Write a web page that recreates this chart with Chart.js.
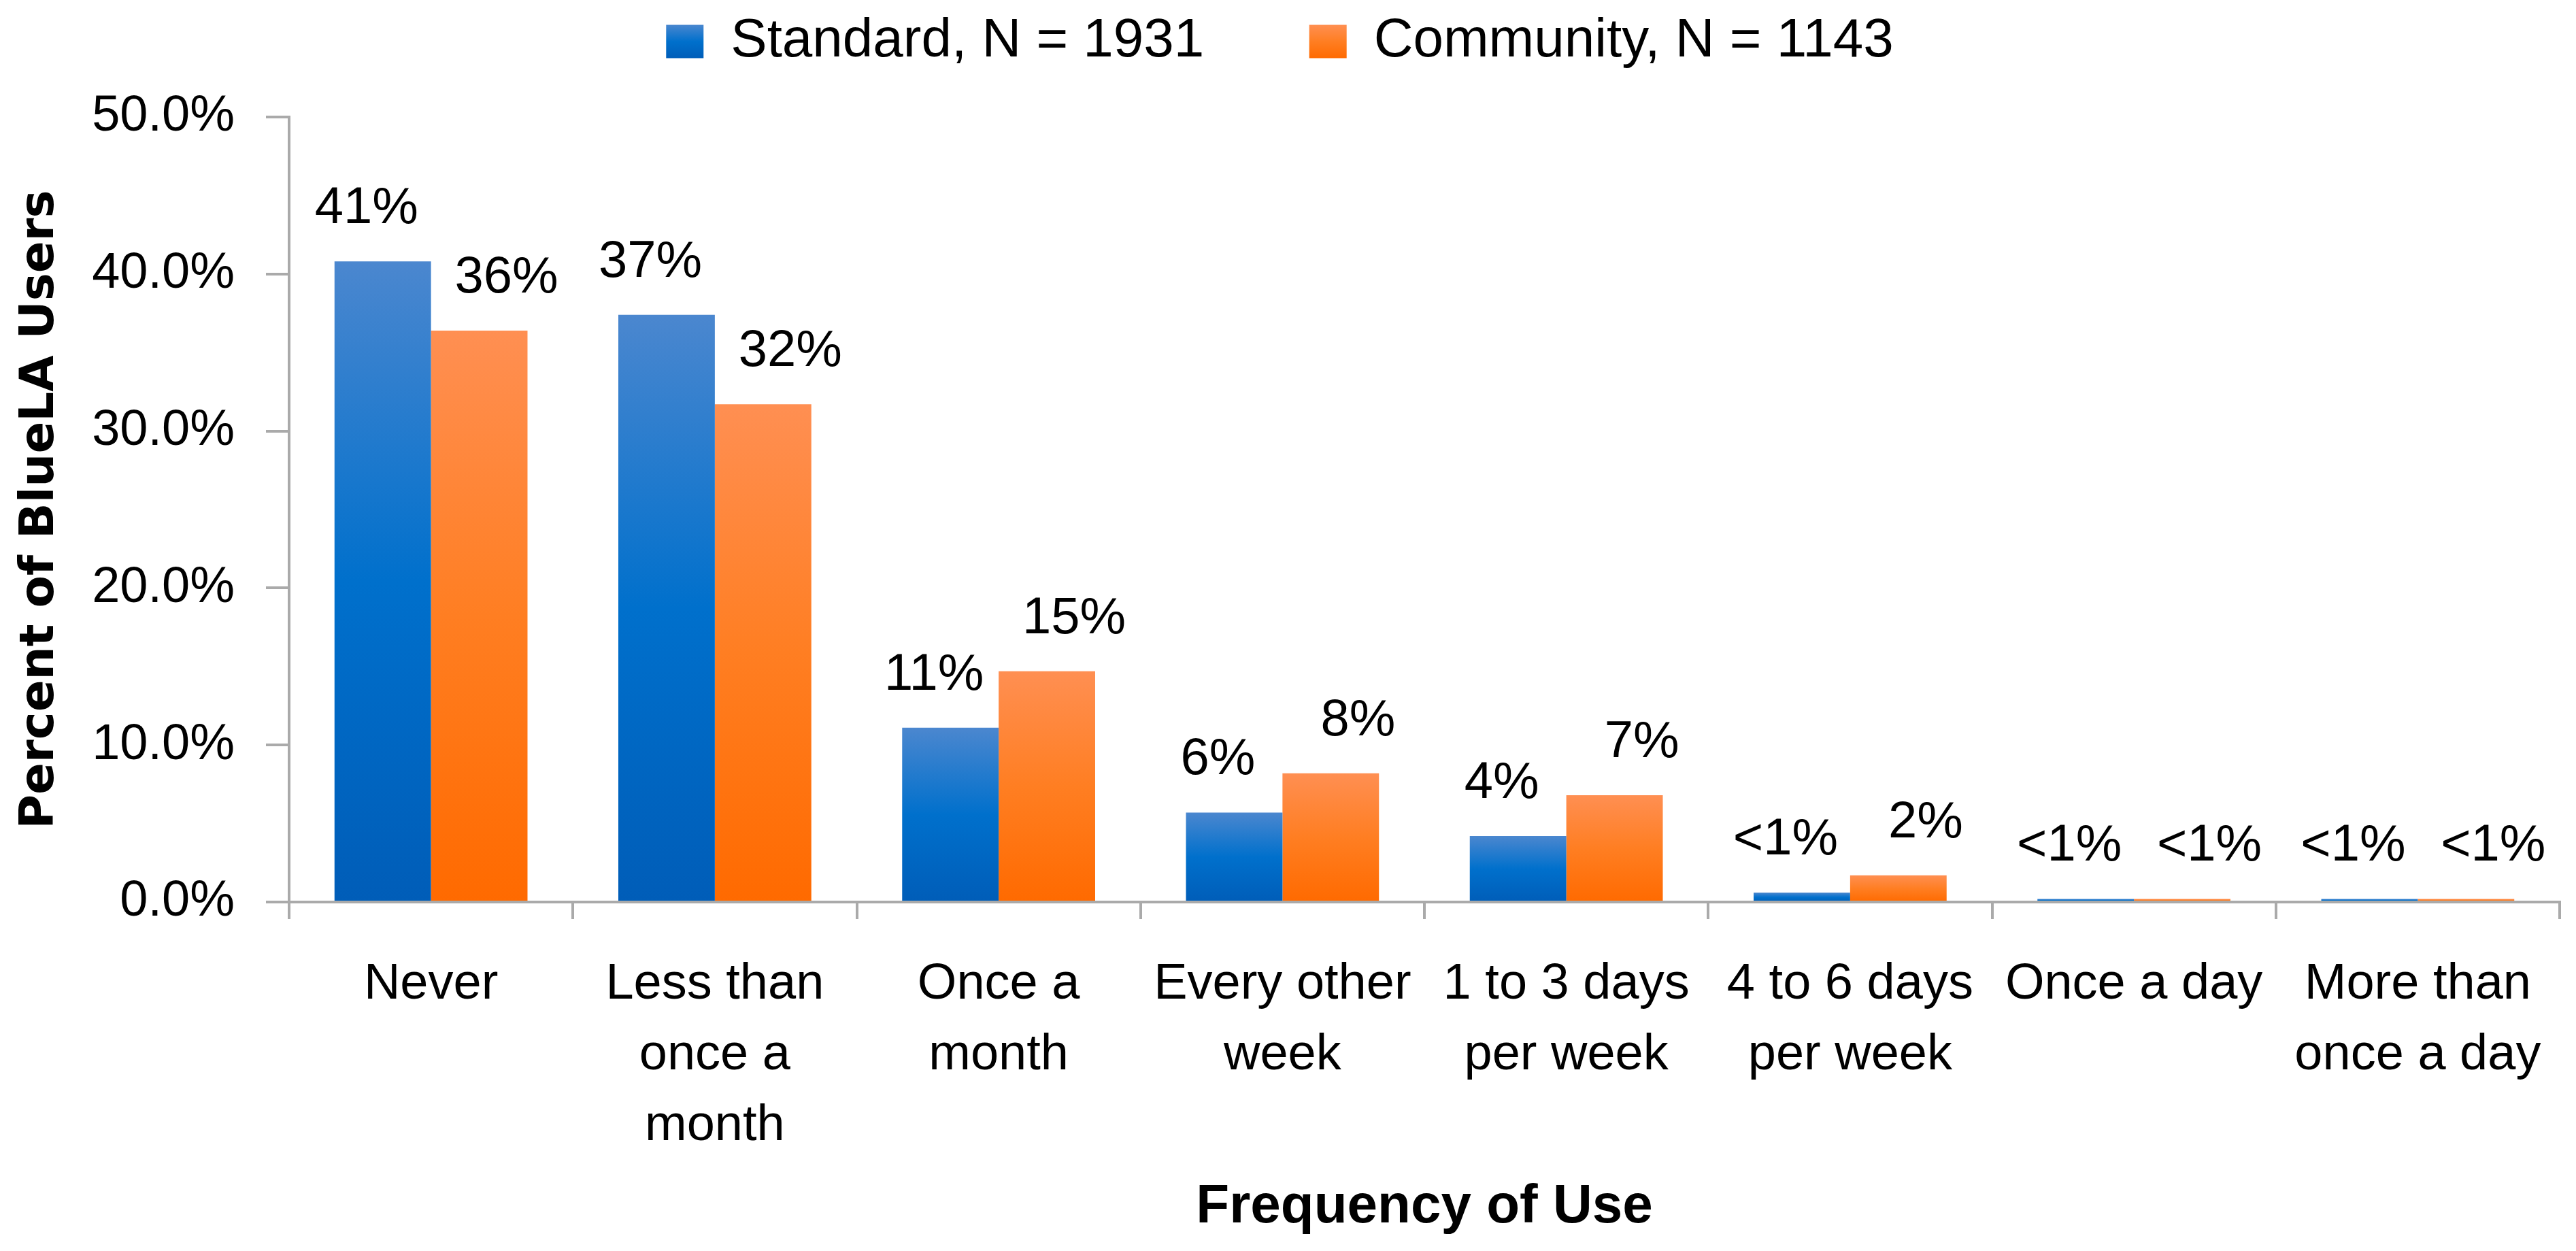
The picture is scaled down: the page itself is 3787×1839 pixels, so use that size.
<!DOCTYPE html>
<html>
<head>
<meta charset="utf-8">
<title>Frequency of Use</title>
<script src="https://cdn.jsdelivr.net/npm/chart.js@4.4.1/dist/chart.umd.min.js"></script>
<style>
  html, body { margin: 0; padding: 0; background: #fff; }
  #wrap { width: 3787px; height: 1839px; }
</style>
</head>
<body>
<div id="wrap"><canvas id="myChart"></canvas></div>
<script>
// values (percent of users)
const categories = [
  'Never',
  ['Less than', 'once a', 'month'],
  ['Once a', 'month'],
  ['Every other', 'week'],
  ['1 to 3 days', 'per week'],
  ['4 to 6 days', 'per week'],
  'Once a day',
  ['More than', 'once a day']
];
const standard = [40.8, 37.4, 11.1, 5.7, 4.2, 0.6, 0.2, 0.2];
const community = [36.4, 31.7, 14.7, 8.2, 6.8, 1.7, 0.2, 0.2];
const seriesNames = ['Standard, N = 1931', 'Community, N = 1143'];
const yMin = 0, yMax = 50, yStep = 10;

const blueStops = ['#4B87CF', '#0070CC', '#005DB8'];
const orangeStops = ['#FF8F52', '#FF7E22', '#FF6A00'];

const pctLabel = v => v < 1 ? '<1%' : Math.round(v) + '%';

function makeGradient(ctx, top, bottom, stops) {
  const g = ctx.createLinearGradient(0, top, 0, bottom);
  g.addColorStop(0, stops[0]);
  g.addColorStop(0.5, stops[1]);
  g.addColorStop(1, stops[2]);
  return g;
}

// Excel-like vertical gradient on each bar
function barFill(stops) {
  return function (c) {
    const y = c.chart.scales.y;
    if (c.raw === undefined || !y) return stops[1];
    const top = y.getPixelForValue(c.raw);
    const base = y.getPixelForValue(0);
    if (!isFinite(top) || !isFinite(base) || base - top < 1) return stops[2];
    return makeGradient(c.chart.ctx, top, base, stops);
  };
}

// keep the legend band as tall as in the original
const legendSpace = {
  id: 'legendSpace',
  beforeInit(chart) {
    if (!chart.legend) return;
    const fit = chart.legend.fit;
    chart.legend.fit = function () {
      fit.call(this);
      this.height = 172;
    };
  }
};

// value labels above the bars, blue pushed left and orange pushed right a bit
const labelNudge = [-24, 40];
const barLabels = {
  id: 'barLabels',
  afterDatasetsDraw(chart) {
    const ctx = chart.ctx;
    ctx.save();
    ctx.font = '76px "Liberation Sans", Arial, sans-serif';
    ctx.fillStyle = '#000';
    ctx.textAlign = 'center';
    ctx.textBaseline = 'alphabetic';
    chart.data.datasets.forEach((ds, i) => {
      chart.getDatasetMeta(i).data.forEach((bar, j) => {
        ctx.fillText(pctLabel(ds.data[j]), bar.x + labelNudge[i], bar.y - 56);
      });
    });
    ctx.restore();
  }
};

Chart.defaults.font.family = '"Liberation Sans", Arial, sans-serif';
Chart.defaults.color = '#000';

const axisGrey = '#AAAAAA';

const myChart = new Chart(document.getElementById('myChart'), {
  type: 'bar',
  data: {
    labels: categories,
    datasets: [{
      label: seriesNames[0],
      data: standard,
      backgroundColor: barFill(blueStops),
      borderWidth: 0
    }, {
      label: seriesNames[1],
      data: community,
      backgroundColor: barFill(orangeStops),
      borderWidth: 0
    }]
  },
  options: {
    responsive: true,
    maintainAspectRatio: false,
    devicePixelRatio: 1,
    animation: false,
    datasets: {
      bar: { barPercentage: 1, categoryPercentage: 0.68 }
    },
    layout: { padding: { top: 0, right: 24, bottom: 0, left: 0 } },
    plugins: {
      tooltip: { enabled: false },
      legend: {
        position: 'top',
        align: 'center',
        labels: {
          boxWidth: 55,
          boxHeight: 49,
          padding: 21,
          font: { size: 80 },
          generateLabels(chart) {
            const items = Chart.defaults.plugins.legend.labels.generateLabels(chart);
            const stops = [blueStops, orangeStops];
            items.forEach((it, i) => {
              it.fillStyle = makeGradient(chart.ctx, 36, 86, stops[i]);
            });
            items[0].text = items[0].text + '\u00A0\u00A0\u00A0\u00A0\u00A0\u00A0';
            return items;
          }
        }
      }
    },
    scales: {
      x: {
        z: 1,
        grid: {
          drawOnChartArea: false,
          drawTicks: true,
          tickLength: 25,
          color: axisGrey,
          lineWidth: 4
        },
        border: { display: true, color: axisGrey, width: 4 },
        ticks: {
          autoSkip: false,
          maxRotation: 0,
          minRotation: 0,
          padding: 45,
          font: { size: 74, lineHeight: 1.405 }
        },
        title: {
          display: true,
          text: 'Frequency of Use',
          font: { size: 80, weight: 'bold', lineHeight: 1.2 },
          padding: { top: 0, bottom: 16 }
        },
        afterFit(scale) { scale.height = 513; }
      },
      y: {
        z: 1,
        min: yMin,
        max: yMax,
        grid: {
          drawOnChartArea: false,
          drawTicks: true,
          tickLength: 34,
          color: axisGrey,
          lineWidth: 4
        },
        border: { display: true, color: axisGrey, width: 4 },
        ticks: {
          stepSize: yStep,
          padding: 46,
          font: { size: 74 },
          callback: v => v.toFixed(1) + '%'
        },
        title: {
          display: true,
          text: 'Percent of BlueLA Users',
          font: { family: '"DejaVu Sans", Verdana, sans-serif', size: 69, weight: 'bold', lineHeight: 1.2 },
          padding: { top: 19, bottom: 0 }
        },
        afterFit(scale) { scale.width = 425; }
      }
    }
  },
  plugins: [legendSpace, barLabels]
});
</script>
</body>
</html>
